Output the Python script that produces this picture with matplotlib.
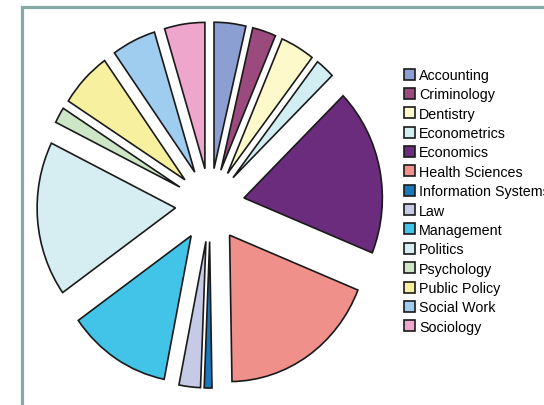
import matplotlib.pyplot as plt
from matplotlib.patches import Rectangle

plt.rcParams['font.family'] = ['Liberation Sans', 'DejaVu Sans']

# share of students per department (percent)
departments = ['Accounting', 'Criminology', 'Dentistry', 'Econometrics', 'Economics',
               'Health Sciences', 'Information Systems', 'Law', 'Management', 'Politics',
               'Psychology', 'Public Policy', 'Social Work', 'Sociology']
shares = [3.7, 2.75, 4.0, 2.25, 18.4, 18.6, 0.9, 2.5, 12.05, 17.1, 1.75, 6.1, 5.15, 4.7]
colors = ['#8c9fd3', '#9a4a7c', '#fdf9cb', '#d3eef2', '#6b2c7d', '#f0908b', '#1b78bb',
          '#c7cae6', '#42c3e8', '#d6eef2', '#cde6c6', '#f7f09e', '#9fcdef', '#eea6cc']

W, H = 544, 406
fig = plt.figure(figsize=(W / 100, H / 100), dpi=100)

# outer frame, open to the right and bottom
fig.add_artist(Rectangle((21.5 / W, -0.1), 1.2, (H - 7.5) / H + 0.1,
                         transform=fig.transFigure, fill=False,
                         edgecolor='#86aaa6', linewidth=2.3))

ax = fig.add_axes([37 / W, 17 / H, 346 / W, 366 / H])
wedges, _ = ax.pie(shares, colors=colors, startangle=90, counterclock=False,
                   explode=[0.25] * len(shares),
                   wedgeprops=dict(edgecolor='#1a1a1a', linewidth=1.2))
ax.set_aspect('auto')
ax.set_xlim(-1.25, 1.25)
ax.set_ylim(-1.25, 1.25)
ax.axis('off')

fig.legend(wedges, departments, loc='upper left',
           bbox_to_anchor=(404 / W, 1 - 69 / H), frameon=False,
           fontsize=10.3, handlelength=0.8, handleheight=0.8,
           handletextpad=0.25, labelspacing=0.375, borderpad=0, borderaxespad=0)

fig.savefig('out.png', dpi=100)
